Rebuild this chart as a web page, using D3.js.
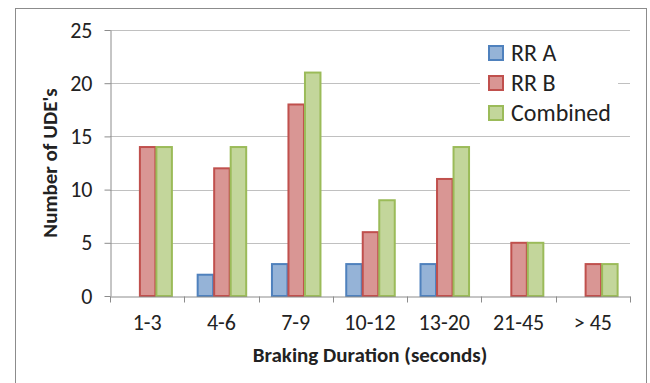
<!DOCTYPE html>
<html><head><meta charset="utf-8">
<script src="https://cdn.jsdelivr.net/npm/d3@7"></script>
<style>body{margin:0;background:#fff}svg{display:block}</style>
</head><body>
<script>
const categories = ["1-3","4-6","7-9","10-12","13-20","21-45","> 45"];
const seriesNames = ["RR A","RR B","Combined"];
const rrA = [0,2,3,3,3,0,0];
const rrB = [14,12,18,6,11,5,3];
const combined = [14,14,21,9,14,5,3];
const yTicks = [0,5,10,15,20,25];
const fills = ["#95b3d7","#d99694","#c3d69b"];
const strokes = ["#4f81bd","#c0504d","#9bbb59"];
const values = [rrA, rrB, combined];

const W = 650, H = 383;
const m = {l:110, r:20, t:30, b:87};
const svg = d3.select("body").append("svg").attr("width",W).attr("height",H);
svg.append("rect").attr("x",15.5).attr("y",8.5).attr("width",631).attr("height",390)
  .attr("fill","#fff").attr("stroke","#8c8c8c").attr("stroke-width",1);

const x = d3.scaleBand().domain(categories).range([m.l, W-m.r]);
const y = d3.scaleLinear().domain([0,25]).range([H-m.b, m.t]);
const xs = d3.scaleBand().domain(seriesNames).range([0, x.bandwidth()]).paddingInner(0).paddingOuter(0.75);
const font = "Carlito, Calibri, 'Open Sans', sans-serif";

const g = svg.append("g");
g.selectAll("line.grid").data(yTicks.filter(d=>d>0)).join("line")
  .attr("x1",m.l).attr("x2",W-m.r).attr("y1",d=>Math.round(y(d))+0.5).attr("y2",d=>Math.round(y(d))+0.5)
  .attr("stroke","#c0c0c0").attr("stroke-width",1);

const ya = svg.append("g").attr("transform",`translate(${m.l+0.5},0)`)
  .call(d3.axisLeft(y).tickValues(yTicks).tickSize(6).tickPadding(12).tickSizeOuter(0));
ya.select(".domain").attr("stroke","#8c8c8c");
ya.selectAll(".tick line").attr("stroke","#8c8c8c");
ya.selectAll(".tick text").attr("font-family",font).attr("font-size",22).attr("fill","#222");

seriesNames.forEach((s,i)=>{
  g.selectAll("rect.s"+i).data(categories.map((c,j)=>({c,v:values[i][j]})).filter(d=>d.v>0)).join("rect")
    .attr("x",d=>x(d.c)+xs(s)+1).attr("width",xs.bandwidth()-1)
    .attr("y",d=>y(d.v)).attr("height",d=>y(0)-y(d.v))
    .attr("fill",fills[i]).attr("stroke",strokes[i]).attr("stroke-width",2);
});

const xa = svg.append("g").attr("transform",`translate(0,${Math.round(y(0))+0.5})`)
  .call(d3.axisBottom(x).tickSize(0).tickPadding(18));
xa.select(".domain").attr("stroke","#8c8c8c");
xa.selectAll(".tick text").attr("font-family",font).attr("font-size",22).attr("fill","#222");
const bounds = categories.map(c=>x(c)).concat([x(categories[categories.length-1])+x.bandwidth()]);
xa.selectAll("line.xt").data(bounds).join("line")
  .attr("x1",d=>Math.round(d)+0.5).attr("x2",d=>Math.round(d)+0.5).attr("y1",0).attr("y2",6)
  .attr("stroke","#8c8c8c");

svg.append("text").attr("x",(m.l+W-m.r)/2).attr("y",362).attr("text-anchor","middle")
  .attr("font-family",font).attr("font-weight","bold").attr("font-size",21).attr("fill","#222")
  .text("Braking Duration (seconds)");
svg.append("text").attr("transform",`translate(57,${(m.t+H-m.b)/2}) rotate(-90)`).attr("text-anchor","middle")
  .attr("font-family",font).attr("font-weight","bold").attr("font-size",21).attr("fill","#222")
  .text("Number of UDE's");

const lg = svg.append("g").attr("transform","translate(480,38)");
lg.append("rect").attr("x",0).attr("y",0).attr("width",138).attr("height",92).attr("fill","#fff");
seriesNames.forEach((s,i)=>{
  const row = lg.append("g").attr("transform",`translate(9,${8+i*30})`);
  row.append("rect").attr("x",0).attr("y",0).attr("width",14).attr("height",14)
    .attr("fill",fills[i]).attr("stroke",strokes[i]).attr("stroke-width",2);
  row.append("text").attr("x",22).attr("y",15).attr("font-family",font).attr("font-size",24).attr("fill","#222").text(s);
});
</script>
</body></html>
